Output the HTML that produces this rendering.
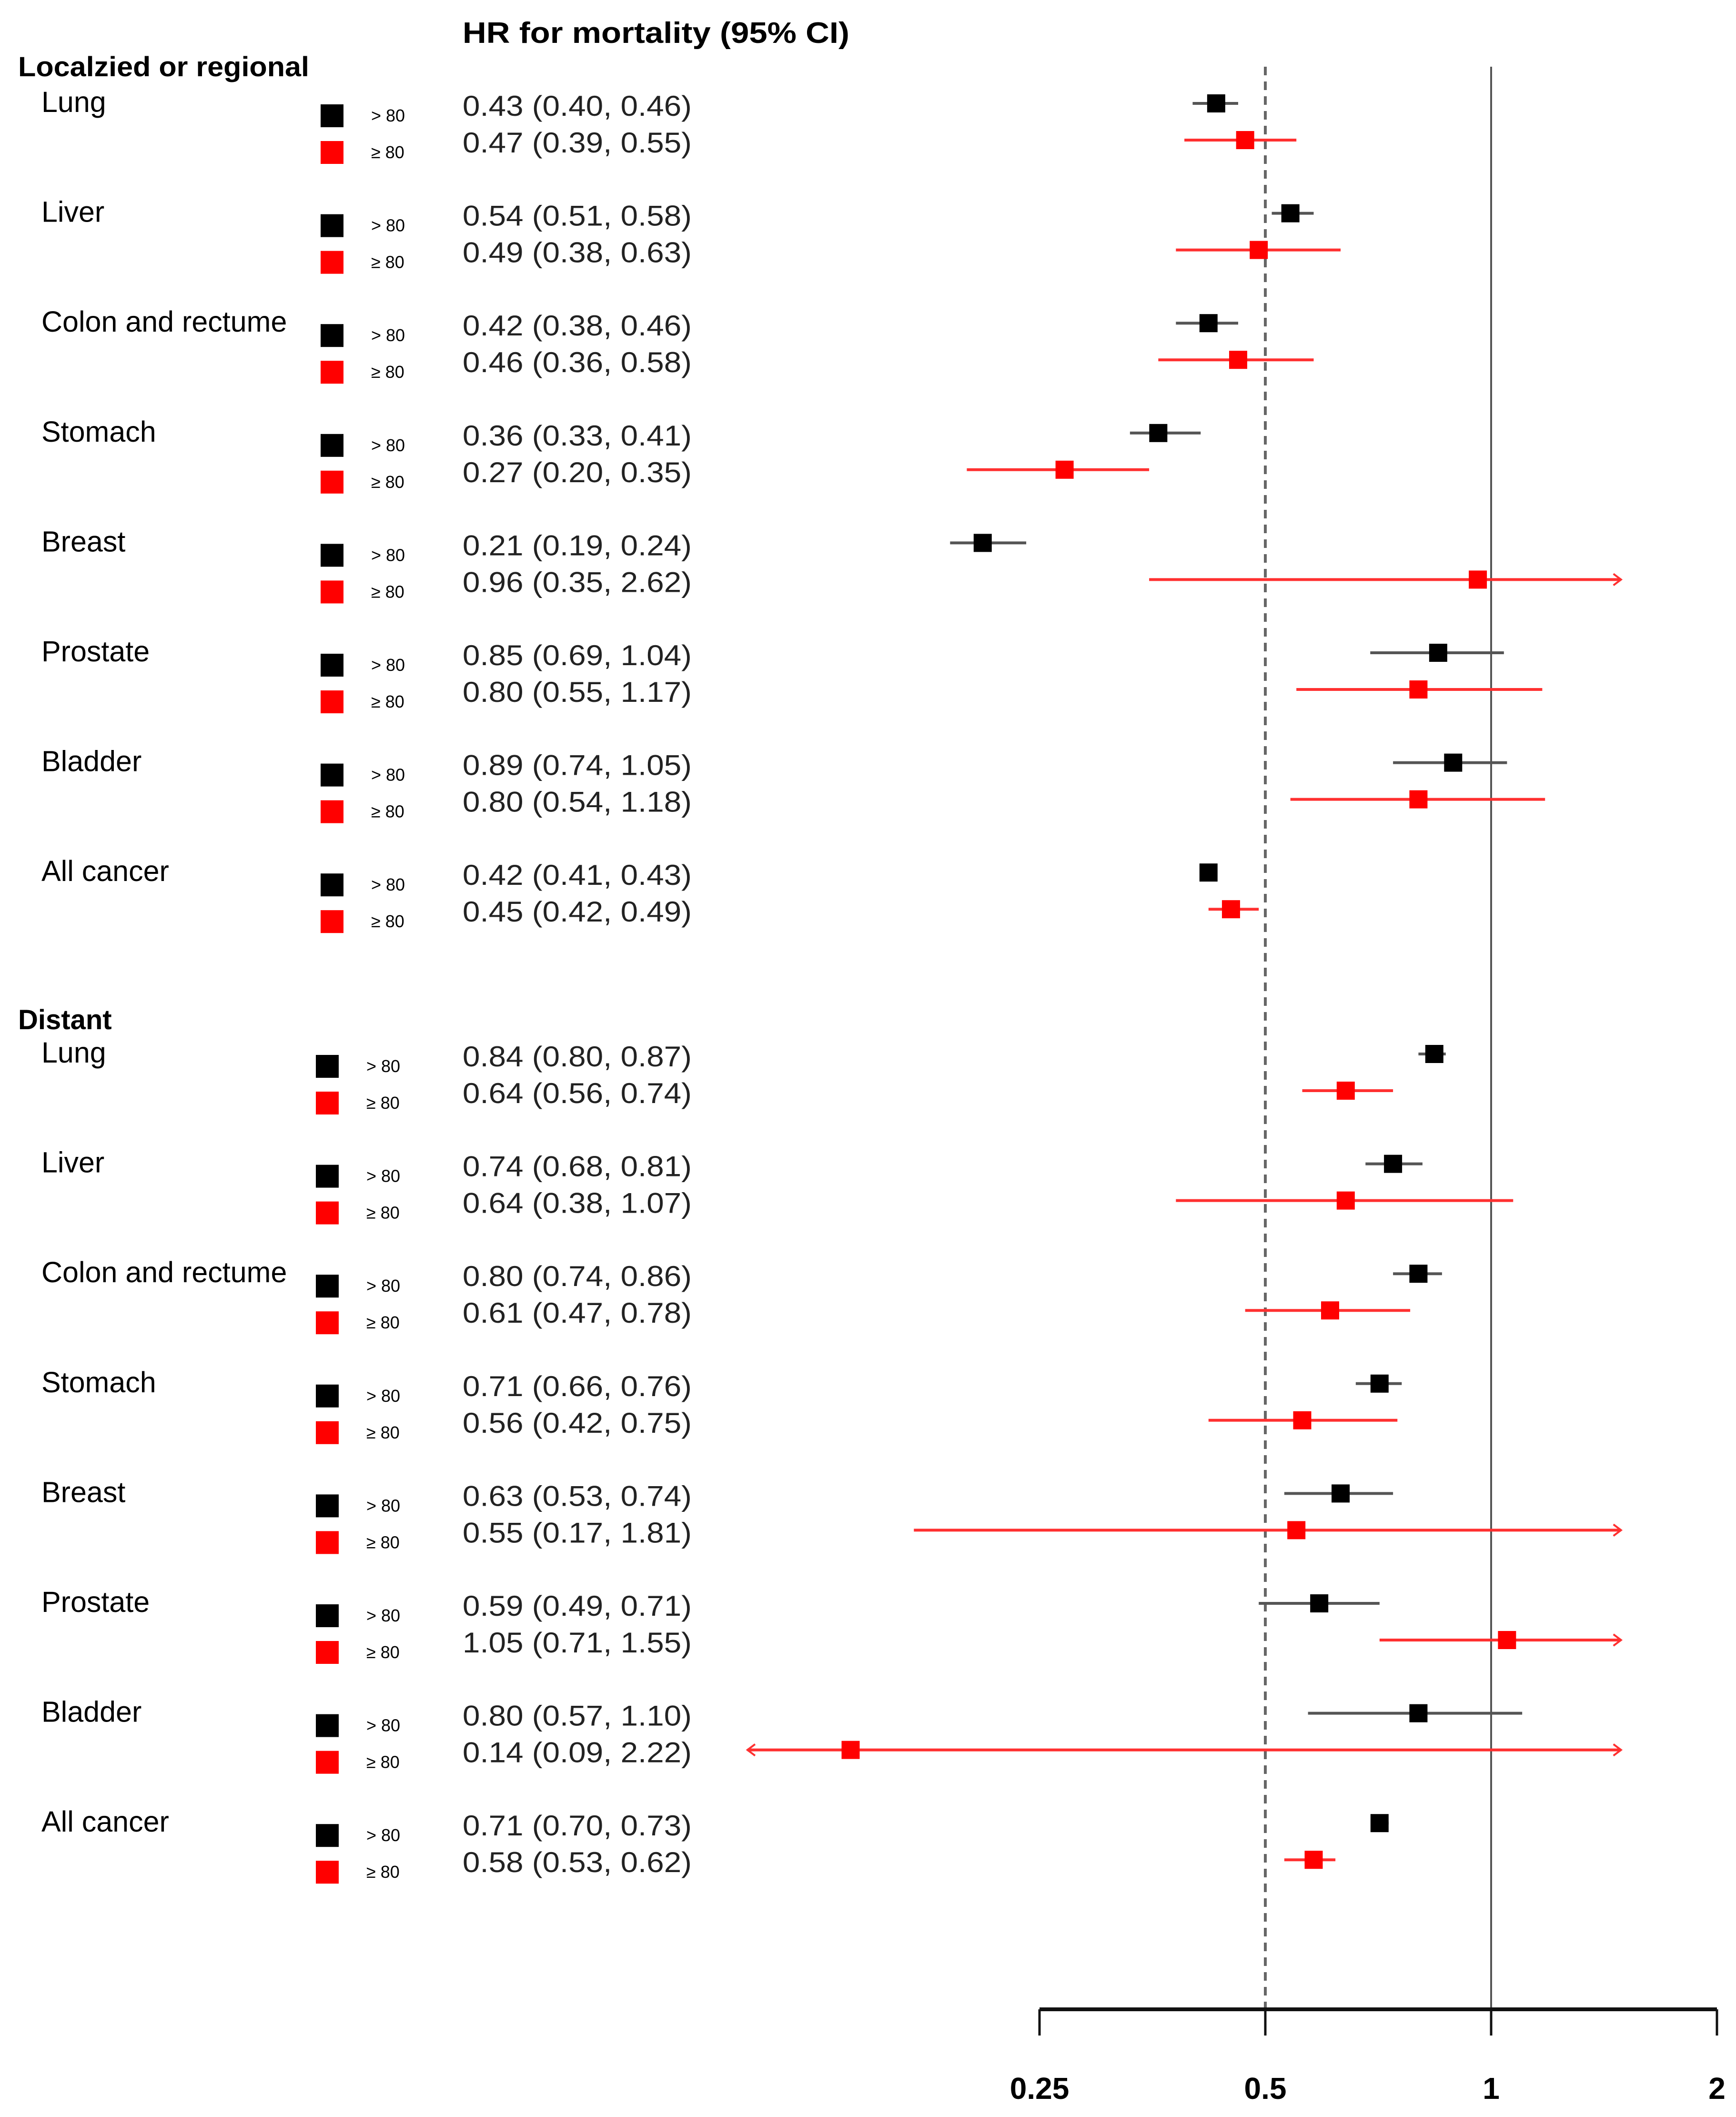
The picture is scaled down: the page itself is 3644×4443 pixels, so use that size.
<!DOCTYPE html>
<html><head><meta charset="utf-8"><style>
html,body{margin:0;padding:0;background:#fff}
svg{display:block}
text{font-family:"Liberation Sans",Arial,sans-serif}
</style></head><body>
<svg id="chart" width="3644" height="4443" viewBox="0 0 3644 4443" xmlns="http://www.w3.org/2000/svg">
<g id="static">
<text x="971" y="90" font-size="62" font-weight="bold" textLength="812" lengthAdjust="spacingAndGlyphs">HR for mortality (95% CI)</text>
<line x1="2656" y1="140" x2="2656" y2="4217" stroke="#666" stroke-width="6" stroke-dasharray="18,13"/>
<line x1="3130" y1="140" x2="3130" y2="4217" stroke="#555" stroke-width="4"/>
</g>
<g id="marks"></g>
<g id="axis"></g>
</svg>
<script>
const NS = "http://www.w3.org/2000/svg";
const sections = ["Localzied or regional", "Distant"];
const categories = ["Lung","Liver","Colon and rectume","Stomach","Breast","Prostate","Bladder","All cancer"];
const locBlackHR = [0.43,0.54,0.42,0.36,0.21,0.85,0.89,0.42];
const locBlackLo = [0.40,0.51,0.38,0.33,0.19,0.69,0.74,0.41];
const locBlackHi = [0.46,0.58,0.46,0.41,0.24,1.04,1.05,0.43];
const locRedHR = [0.47,0.49,0.46,0.27,0.96,0.80,0.80,0.45];
const locRedLo = [0.39,0.38,0.36,0.20,0.35,0.55,0.54,0.42];
const locRedHi = [0.55,0.63,0.58,0.35,2.62,1.17,1.18,0.49];
const disBlackHR = [0.84,0.74,0.80,0.71,0.63,0.59,0.80,0.71];
const disBlackLo = [0.80,0.68,0.74,0.66,0.53,0.49,0.57,0.70];
const disBlackHi = [0.87,0.81,0.86,0.76,0.74,0.71,1.10,0.73];
const disRedHR = [0.64,0.64,0.61,0.56,0.55,1.05,0.14,0.58];
const disRedLo = [0.56,0.38,0.47,0.42,0.17,0.71,0.09,0.53];
const disRedHi = [0.74,1.07,0.78,0.75,1.81,1.55,2.22,0.62];
const tickValues = [0.25,0.5,1,2];
const tickLabels = ["0.25","0.5","1","2"];

const X0 = 3130, PER = 474, CLIPHI = 1.49, CLIPLO = 0.102;
function xs(v){ return X0 + PER*Math.log2(v); }
const marks = document.getElementById('marks');
function mk(tag, attrs, parent){ const e=document.createElementNS(NS,tag); for(const k in attrs) e.setAttribute(k,attrs[k]); (parent||marks).appendChild(e); return e; }
function fmt(v){ return v.toFixed(2); }

function drawRow(y, hr, lo, hi, red, name){
  const col = red ? "#ff0000" : "#000";
  const lcol = red ? "#ff3030" : "#555";
  const g = mk('g', {});
  
  
  const a = Math.max(lo, CLIPLO), b = Math.min(hi, CLIPHI);
  const ln = mk('line', {x1:xs(a), x2:xs(b), y1:y, y2:y, stroke:lcol, 'stroke-width':6}, g);
  
  
  if (hi > CLIPHI) {
    const ah = mk('path', {d:`M${xs(b)-16},${y-12} L${xs(b)},${y} L${xs(b)-16},${y+12}`, fill:'none', stroke:lcol, 'stroke-width':4}, g);
    
    
  }
  if (lo < CLIPLO) {
    const al = mk('path', {d:`M${xs(a)+16},${y-12} L${xs(a)},${y} L${xs(a)+16},${y+12}`, fill:'none', stroke:lcol, 'stroke-width':4}, g);
    
    
  }
  const sq = mk('rect', {x:xs(hr)-19, y:y-19, width:38, height:38, fill:col}, g);
  
  
}

function drawSection(si, headY, baseY, dx, bh, bl, bhi, rh, rl, rhi){
  const t = mk('text', {x:38, y:headY, 'font-size':58, 'font-weight':'bold'});
  t.textContent = sections[si];
  
  
  if (si===0) { t.setAttribute('textLength', 611); t.setAttribute('lengthAdjust','spacingAndGlyphs'); }
  for (let i=0;i<categories.length;i++){
    const yb = baseY + i*230.6, yr = yb + 77;
    const key = (si===0?'loc-':'dist-') + categories[i].toLowerCase().replace(/ /g,'-');
    const c = mk('text', {x:87, y:yb+18, 'font-size':61});
    c.textContent = categories[i];
    
    
    [[yb, false, bh[i], bl[i], bhi[i], '> 80'], [yr, true, rh[i], rl[i], rhi[i], '≥ 80']].forEach(([y, red, h, l, u, lab])=>{
      const sub = key + (red ? '-ge80' : '-gt80');
      const ls = mk('rect', {x:673+dx, y:y+2, width:48, height:48, fill: red ? '#ff0000' : '#000'});
      
      
      const lt = mk('text', {x:779+dx, y:y+38, 'font-size':36});
      lt.textContent = lab;
      
      
      const vt = mk('text', {x:971, y:y+26, 'font-size':60, fill:'#222', textLength:481, lengthAdjust:'spacingAndGlyphs'});
      vt.textContent = `${fmt(h)} (${fmt(l)}, ${fmt(u)})`;
      
      
      drawRow(y, h, l, u, red, sub);
    });
  }
}
drawSection(0, 160, 217, 0, locBlackHR, locBlackLo, locBlackHi, locRedHR, locRedLo, locRedHi);
drawSection(1, 2160, 2212, -10, disBlackHR, disBlackLo, disBlackHi, disRedHR, disRedLo, disRedHi);

const axis = document.getElementById('axis');
const al = mk('line', {x1:xs(tickValues[0]), x2:xs(tickValues[tickValues.length-1]), y1:4217, y2:4217, stroke:'#111', 'stroke-width':8}, axis);


tickValues.forEach((v,i)=>{
  const tk = mk('line', {x1:xs(v), x2:xs(v), y1:4217, y2:4272, stroke:'#111', 'stroke-width':5}, axis);
  
  
  const tl = mk('text', {x:xs(v), y:4405, 'font-size':64, 'font-weight':'bold', 'text-anchor':'middle'}, axis);
  tl.textContent = tickLabels[i];
  
  
});
</script>
</body></html>
